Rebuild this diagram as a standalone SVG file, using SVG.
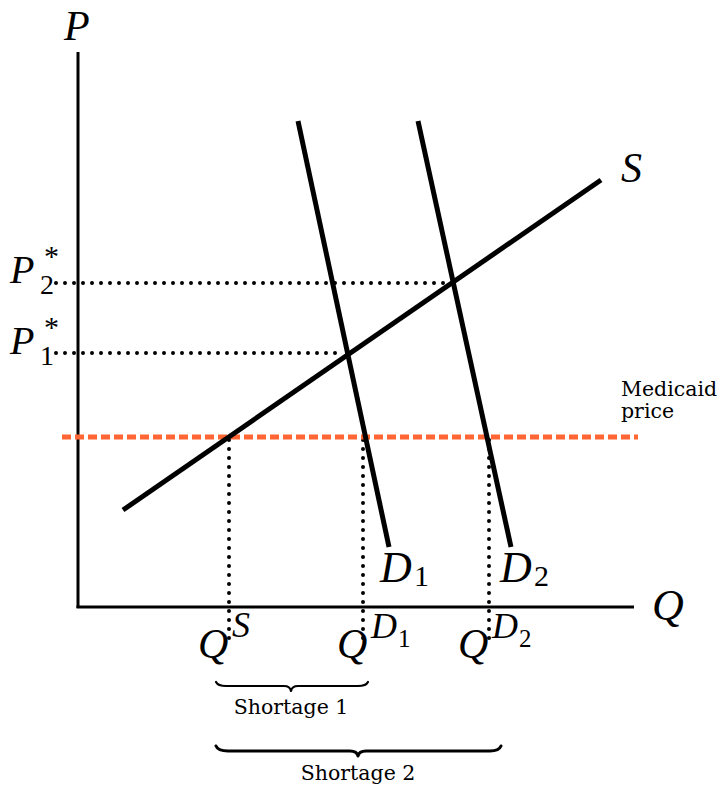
<svg xmlns="http://www.w3.org/2000/svg" width="723" height="788" viewBox="0 0 723 788">
<style>
.m{font-family:"Liberation Serif","DejaVu Serif",serif;font-style:italic;fill:#000}
.r{font-family:"Liberation Serif","DejaVu Serif",serif;fill:#000}
.t{font-family:"DejaVu Serif","Liberation Serif",serif;fill:#000;font-size:20.5px}
.ax{stroke:#000;stroke-width:3;fill:none}
.cv{stroke:#000;stroke-width:5;fill:none}
.dot{stroke:#000;stroke-width:4;stroke-linecap:round;stroke-dasharray:0 9;fill:none}
.br{stroke:#000;fill:none;stroke-linejoin:round;stroke-linecap:round}
</style>
<rect width="723" height="788" fill="#fff"/>
<g id="connectors">
<line class="dot" x1="56" y1="283" x2="445" y2="283"/>
<line class="dot" x1="56" y1="353" x2="342" y2="353"/>
<line class="dot" x1="229" y1="440" x2="229" y2="642"/>
<line class="dot" x1="363" y1="440" x2="363" y2="642"/>
<line class="dot" x1="489" y1="440" x2="489" y2="642"/>
</g>
<g id="axes">
<line class="ax" x1="78" y1="52" x2="78" y2="608"/>
<line class="ax" x1="76.5" y1="607" x2="634" y2="607"/>
<text class="m" x="64" y="40" font-size="42">P</text>
<text class="m" x="652" y="620" font-size="44">Q</text>
</g>
<g id="medicaid">
<line x1="62" y1="437" x2="638" y2="437" stroke="#ff6633" stroke-width="5" stroke-dasharray="9 4"/>
<text class="t" x="621" y="396">Medicaid</text>
<text class="t" x="621" y="418">price</text>
</g>
<g id="supply">
<line class="cv" x1="123" y1="510" x2="601" y2="180"/>
<text class="m" x="621" y="182" font-size="42">S</text>
</g>
<g id="demand1">
<line class="cv" x1="298" y1="121" x2="389" y2="547"/>
<text class="m" x="380" y="582" font-size="44">D</text>
<text class="r" x="414" y="586" font-size="30">1</text>
</g>
<g id="demand2">
<line class="cv" x1="418" y1="121" x2="511" y2="547"/>
<text class="m" x="500" y="582" font-size="44">D</text>
<text class="r" x="534" y="586" font-size="30">2</text>
</g>
<g id="p2label">
<text class="m" x="10" y="283" font-size="40">P</text>
<text class="r" x="44" y="266" font-size="30">*</text>
<text class="r" x="40" y="294" font-size="28">2</text>
</g>
<g id="p1label">
<text class="m" x="10" y="354" font-size="40">P</text>
<text class="r" x="44" y="337" font-size="30">*</text>
<text class="r" x="40" y="365" font-size="28">1</text>
</g>
<g id="qs">
<text class="m" x="198" y="658" font-size="42">Q</text>
<text class="m" x="232" y="637" font-size="36">S</text>
</g>
<g id="qd1">
<text class="m" x="337" y="658" font-size="42">Q</text>
<text class="m" x="371" y="638" font-size="36">D</text>
<text class="r" x="398" y="647" font-size="25">1</text>
</g>
<g id="qd2">
<text class="m" x="458" y="658" font-size="42">Q</text>
<text class="m" x="492" y="638" font-size="36">D</text>
<text class="r" x="519" y="647" font-size="25">2</text>
</g>
<g id="shortage1">
<path class="br" stroke-width="2.2" d="M216,682 Q218,686 226,686 L284,686 Q290,686 291,691 Q292,686 298,686 L358,686 Q366,686 368,682"/>
<text class="t" x="291" y="714" text-anchor="middle">Shortage 1</text>
</g>
<g id="shortage2">
<path class="br" stroke-width="3" d="M216,746 Q218,751 228,751 L350,751 Q357,751 358,756 Q359,751 366,751 L490,751 Q499,751 501,746"/>
<text class="t" x="358" y="780" text-anchor="middle">Shortage 2</text>
</g>
</svg>
